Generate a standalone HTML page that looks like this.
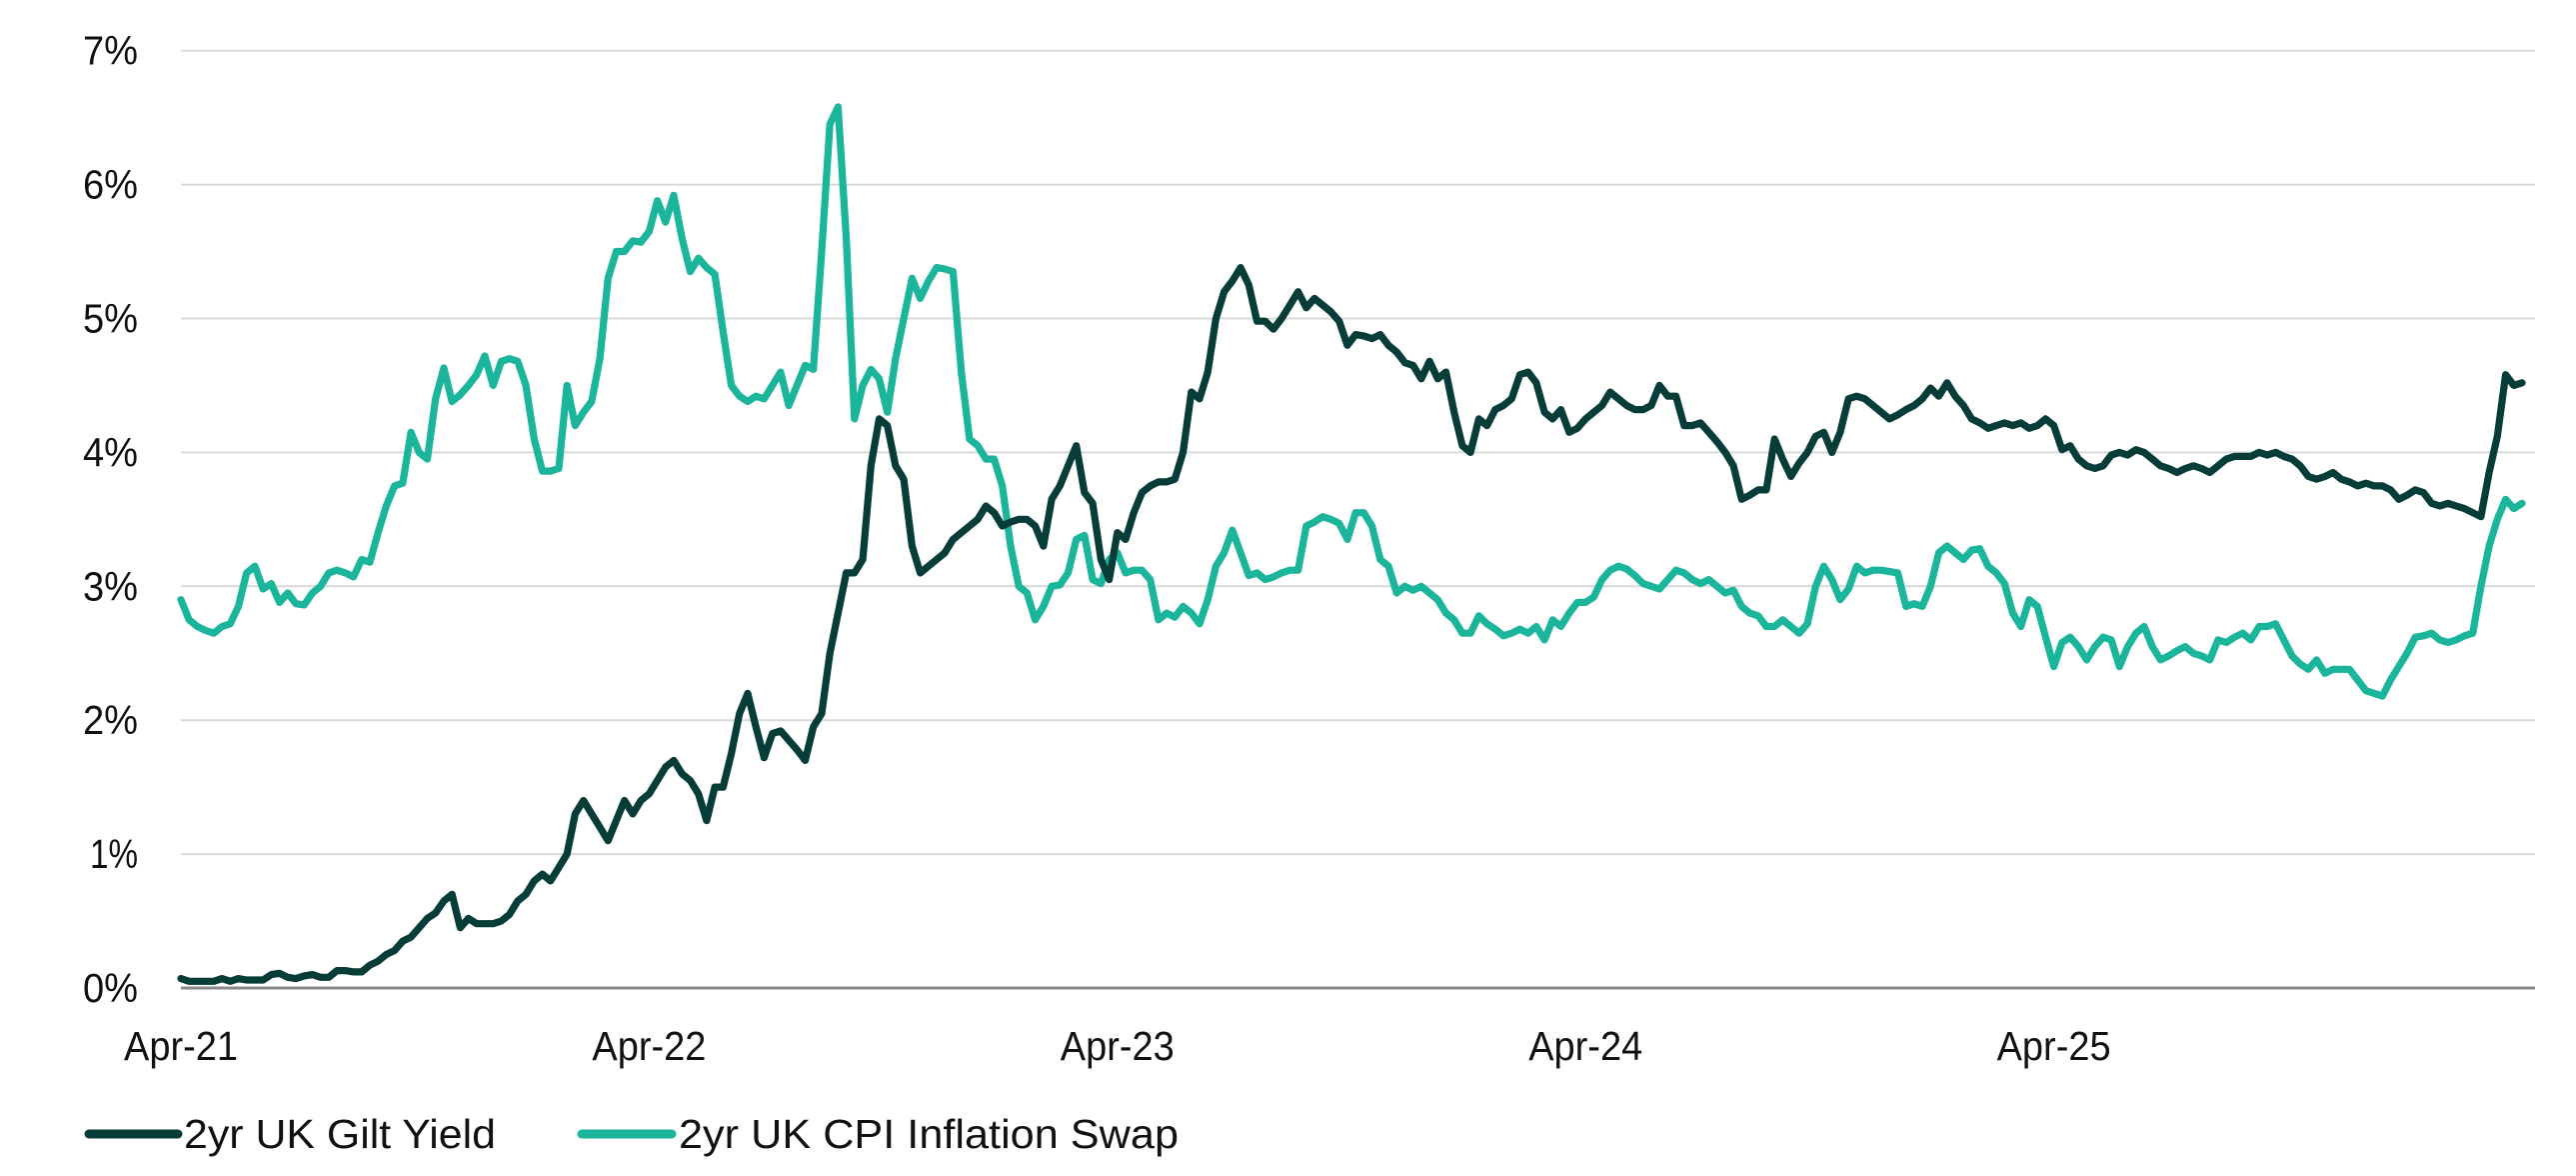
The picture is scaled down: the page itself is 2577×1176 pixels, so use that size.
<!DOCTYPE html>
<html><head><meta charset="utf-8">
<style>
html,body{margin:0;padding:0;background:#fff;}
svg{display:block;font-family:"Liberation Sans",Arial,sans-serif;}
</style></head>
<body>
<svg id="chart" width="2577" height="1176" viewBox="0 0 2577 1176" xmlns="http://www.w3.org/2000/svg">
<g id="grid"></g>
<g id="yticks"></g>
<g id="xticks"></g>
<g id="series"></g>
<g>
  <g>
    <line x1="89" y1="1134" x2="178" y2="1134" stroke="#063d38" stroke-width="9" stroke-linecap="round"/>
    <text x="184" y="1148" font-size="41" fill="#111" textLength="312" lengthAdjust="spacingAndGlyphs">2yr UK Gilt Yield</text>
  </g>
  <g>
    <line x1="582" y1="1134" x2="672" y2="1134" stroke="#1ab59b" stroke-width="9" stroke-linecap="round"/>
    <text x="679" y="1148" font-size="41" fill="#111" textLength="500" lengthAdjust="spacingAndGlyphs">2yr UK CPI Inflation Swap</text>
  </g>
</g>
</svg>
<script>
const yTicks = [0,1,2,3,4,5,6,7];
const yTickLabels = ["0%","1%","2%","3%","4%","5%","6%","7%"];
const xTickLabels = ["Apr-21","Apr-22","Apr-23","Apr-24","Apr-25"];
const xTickYears = [0,1,2,3,4];
const giltYield = [
.07,.05,.05,.05,.05,.07,.05,.07,.06,.06,
.06,.1,.11,.08,.07,.09,.1,.08,.08,.13,
.13,.12,.12,.17,.2,.25,.28,.35,.38,.45,
.52,.56,.65,.7,.45,.52,.48,.48,.48,.5,
.55,.65,.7,.8,.85,.8,.9,1.0,1.3,1.4,
1.3,1.2,1.1,1.25,1.4,1.3,1.4,1.45,1.55,1.65,
1.7,1.6,1.55,1.45,1.25,1.5,1.5,1.75,2.05,2.2,
1.95,1.72,1.9,1.92,1.85,1.78,1.7,1.95,2.05,2.5,
2.8,3.1,3.1,3.2,3.9,4.25,4.2,3.9,3.8,3.3,
3.1,3.15,3.2,3.25,3.35,3.4,3.45,3.5,3.6,3.55,
3.45,3.48,3.5,3.5,3.45,3.3,3.65,3.75,3.9,4.05,
3.7,3.62,3.2,3.05,3.4,3.35,3.55,3.7,3.75,3.78,
3.78,3.8,4.0,4.45,4.4,4.6,5.0,5.2,5.28,5.38,
5.25,4.98,4.98,4.92,5.0,5.1,5.2,5.08,5.15,5.1,
5.05,4.98,4.8,4.88,4.87,4.85,4.88,4.8,4.75,4.67,
4.65,4.55,4.68,4.55,4.6,4.3,4.05,4.0,4.25,4.2,
4.32,4.35,4.4,4.58,4.6,4.52,4.3,4.25,4.32,4.15,
4.18,4.25,4.3,4.35,4.45,4.4,4.35,4.32,4.32,4.35,
4.5,4.42,4.42,4.2,4.2,4.22,4.15,4.08,4.0,3.9,
3.65,3.68,3.72,3.72,4.1,3.95,3.82,3.92,4.0,4.12,
4.15,4.0,4.15,4.4,4.42,4.4,4.35,4.3,4.25,4.28,
4.32,4.35,4.4,4.48,4.42,4.52,4.42,4.35,4.25,4.22,
4.18,4.2,4.22,4.2,4.22,4.18,4.2,4.25,4.2,4.02,
4.05,3.95,3.9,3.88,3.9,3.98,4.0,3.98,4.02,4.0,
3.95,3.9,3.88,3.85,3.88,3.9,3.88,3.85,3.9,3.95,
3.97,3.97,3.97,4.0,3.98,4.0,3.97,3.95,3.9,3.82,
3.8,3.82,3.85,3.8,3.78,3.75,3.77,3.75,3.75,3.72,
3.65,3.68,3.72,3.7,3.62,3.6,3.62,3.6,3.58,3.55,
3.52,3.85,4.12,4.58,4.5,4.52];
const inflationSwap = [
2.9,2.75,2.7,2.67,2.65,2.7,2.72,2.85,3.1,3.15,
2.98,3.02,2.88,2.95,2.87,2.86,2.95,3.0,3.1,3.12,
3.1,3.07,3.2,3.18,3.4,3.6,3.75,3.77,4.15,4.0,
3.95,4.4,4.63,4.38,4.43,4.5,4.58,4.72,4.5,4.68,
4.7,4.68,4.5,4.1,3.86,3.86,3.88,4.5,4.2,4.3,
4.38,4.7,5.3,5.5,5.5,5.58,5.57,5.65,5.88,5.72,
5.92,5.6,5.35,5.45,5.38,5.33,4.9,4.5,4.42,4.38,
4.42,4.4,4.5,4.6,4.35,4.5,4.65,4.62,5.5,6.45,
6.58,5.6,4.25,4.5,4.62,4.55,4.3,4.7,5.0,5.3,
5.15,5.28,5.38,5.37,5.35,4.6,4.1,4.05,3.95,3.95,
3.75,3.3,3.0,2.95,2.75,2.85,3.0,3.01,3.1,3.35,
3.38,3.05,3.02,3.2,3.25,3.1,3.12,3.12,3.05,2.75,
2.8,2.77,2.85,2.8,2.72,2.9,3.15,3.25,3.42,3.25,
3.08,3.1,3.05,3.07,3.1,3.12,3.12,3.45,3.48,3.52,
3.5,3.47,3.35,3.55,3.55,3.45,3.2,3.15,2.95,3.0,
2.97,3.0,2.95,2.9,2.8,2.75,2.65,2.65,2.78,2.72,
2.68,2.63,2.65,2.68,2.65,2.7,2.6,2.75,2.7,2.8,
2.88,2.88,2.92,3.05,3.12,3.15,3.13,3.08,3.02,3.0,
2.98,3.05,3.12,3.1,3.05,3.02,3.05,3.0,2.95,2.97,
2.85,2.8,2.78,2.7,2.7,2.75,2.7,2.65,2.72,3.0,
3.15,3.05,2.9,2.98,3.15,3.1,3.12,3.12,3.11,3.1,
2.85,2.87,2.85,3.0,3.25,3.3,3.25,3.2,3.27,3.28,
3.15,3.1,3.02,2.8,2.7,2.9,2.85,2.62,2.4,2.58,
2.62,2.55,2.45,2.55,2.62,2.6,2.4,2.55,2.65,2.7,
2.55,2.45,2.48,2.52,2.55,2.5,2.48,2.45,2.6,2.58,
2.62,2.65,2.6,2.7,2.7,2.72,2.6,2.48,2.42,2.38,
2.45,2.35,2.38,2.38,2.38,2.3,2.22,2.2,2.18,2.3,
2.4,2.5,2.62,2.63,2.65,2.6,2.58,2.6,2.63,2.65,
3.0,3.3,3.5,3.65,3.58,3.62];

const NS="http://www.w3.org/2000/svg";
const X0=181, X1=2526, Y0=988, YSTEP=133.9, YEARPX=468.4;
const PTPX=8.2175;
function yScale(v){return Y0 - v*YSTEP;}
function xIndex(i){return X0 + i*PTPX;}
function xYear(y){return X0 + y*YEARPX;}
function mk(tag,attrs){const e=document.createElementNS(NS,tag);for(const k in attrs)e.setAttribute(k,attrs[k]);return e;}

const grid=document.getElementById('grid');
const yt=document.getElementById('yticks');
yTicks.forEach((t,i)=>{
  if(t>0){
    const l=mk('line',{x1:X0,x2:X1+10,y1:yScale(t),y2:yScale(t),stroke:'#d9d9d9','stroke-width':2});
    
    
    grid.appendChild(l);
  }
  const tx=mk('text',{x:138,y:yScale(t)+14,'text-anchor':'end','font-size':41,fill:'#111',textLength:t===1?48:55,lengthAdjust:'spacingAndGlyphs'});
  tx.textContent=yTickLabels[i];
  
  
  yt.appendChild(tx);
});
const base=mk('line',{x1:X0,x2:X1+10,y1:Y0,y2:Y0,stroke:'#8a8a8a','stroke-width':3});


grid.appendChild(base);

const xt=document.getElementById('xticks');
xTickLabels.forEach((lab,i)=>{
  const tx=mk('text',{x:xYear(xTickYears[i]),y:1060,'text-anchor':'middle','font-size':41,fill:'#111',textLength:114,lengthAdjust:'spacingAndGlyphs'});
  tx.textContent=lab;
  
  
  xt.appendChild(tx);
});

const ser=document.getElementById('series');
function drawLine(vals,color,name){
  const d=vals.map((v,i)=>(i?'L':'M')+xIndex(i).toFixed(1)+' '+yScale(v).toFixed(1)).join(' ');
  const p=mk('path',{d:d,fill:'none',stroke:color,'stroke-width':7.2,'stroke-linejoin':'round','stroke-linecap':'round'});
  
  
  ser.appendChild(p);
}
drawLine(inflationSwap,'#1ab59b','inflation-swap-line');
drawLine(giltYield,'#063d38','gilt-yield-line');
</script>
</body></html>
